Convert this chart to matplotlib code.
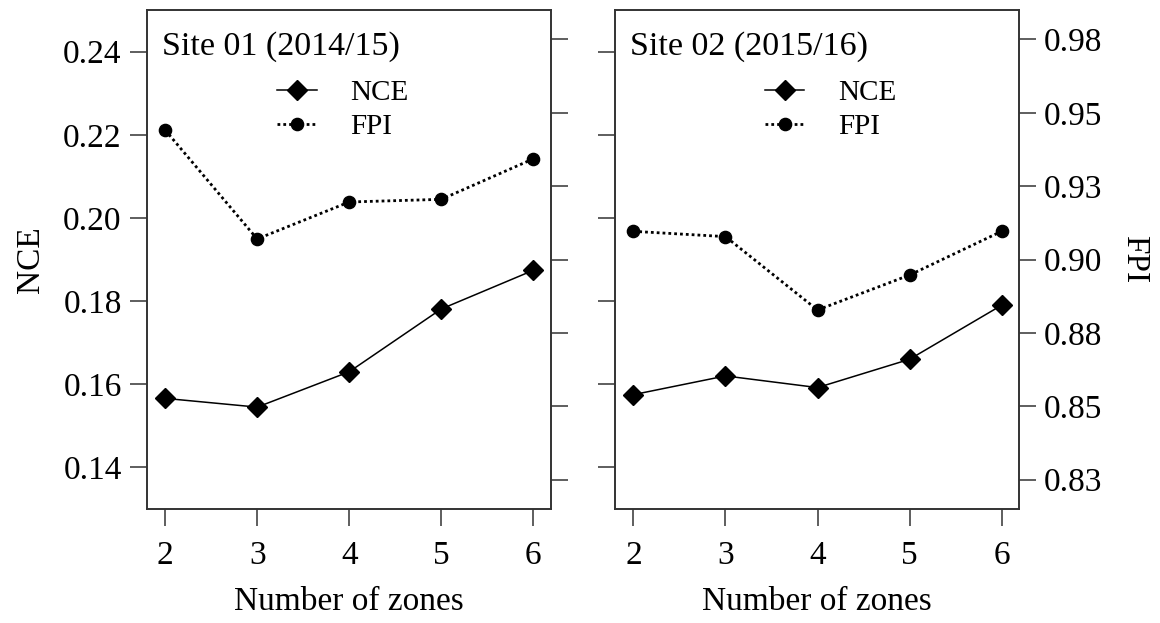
import matplotlib
matplotlib.use("Agg")
import matplotlib.pyplot as plt

plt.rcParams['font.family'] = ['Liberation Serif', 'DejaVu Serif']

# values per number of zones
zones = [2, 3, 4, 5, 6]
nce_site01 = [0.1566, 0.1545, 0.1630, 0.1781, 0.1874]
fpi_site01 = [0.9441, 0.9070, 0.9196, 0.9205, 0.9343]
nce_site02 = [0.1575, 0.1620, 0.1592, 0.1660, 0.1790]
fpi_site02 = [0.9096, 0.9078, 0.8828, 0.8947, 0.9096]

site_titles = ['Site 01 (2014/15)', 'Site 02 (2015/16)']
nce_ticks = [0.14, 0.16, 0.18, 0.20, 0.22, 0.24]
nce_labels = ['0.14', '0.16', '0.18', '0.20', '0.22', '0.24']
fpi_ticks = [0.825, 0.85, 0.875, 0.90, 0.925, 0.95, 0.975]
fpi_labels = ['0.83', '0.85', '0.88', '0.90', '0.93', '0.95', '0.98']

frame_col = '#333333'
tick_size = 24
label_size = 24

fig = plt.figure(figsize=(11.6, 6.23), dpi=100)
ax1 = fig.add_axes([0.1265, 0.1830, 0.3483, 0.8009])
ax2 = fig.add_axes([0.5302, 0.1830, 0.3483, 0.8009])

panels = [(ax1, nce_site01, fpi_site01), (ax2, nce_site02, fpi_site02)]
leg_x = [0.322, 0.370]

for i, (ax, nce, fpi) in enumerate(panels):
    tw = ax.twinx()
    l1, = ax.plot(zones, nce, color='black', lw=1.1, marker='D', ms=9.8,
                  label='NCE', zorder=3)
    l2, = tw.plot(zones, fpi, color='black', lw=2.0, ls=(0, (1, 1.1)),
                  marker='o', ms=8.8, label='FPI', zorder=3)

    ax.set_xlim(1.80, 6.19)
    ax.set_ylim(0.130, 0.250)
    tw.set_ylim(0.815, 0.985)
    ax.set_xticks(zones)
    ax.set_yticks(nce_ticks)
    tw.set_yticks(fpi_ticks)

    for a in (ax, tw):
        for sp in a.spines.values():
            sp.set_color(frame_col)
            sp.set_linewidth(1.2)
        a.tick_params(direction='out', length=12, width=1.1, color=frame_col,
                      labelsize=tick_size, pad=6)
    ax.tick_params(axis='x', pad=11)

    ax.set_xlabel('Number of zones', fontsize=label_size, labelpad=11)

    if i == 0:
        ax.set_yticklabels(nce_labels)
        ax.set_ylabel('NCE', fontsize=label_size, labelpad=12)
        tw.set_yticklabels([])
    else:
        ax.set_yticklabels([])
        tw.set_yticklabels(fpi_labels)
        tw.set_ylabel('FPI', fontsize=label_size, rotation=-90, labelpad=34)

    ax.text(0.037, 0.91, site_titles[i], transform=ax.transAxes,
            fontsize=24.5, ha='left', va='baseline')

    ax.legend([l1, l2], ['NCE', 'FPI'], loc='upper left',
              bbox_to_anchor=(leg_x[i], 0.86), frameon=False, fontsize=21,
              handlelength=1.37, handletextpad=1.16, labelspacing=0.24,
              borderpad=0, borderaxespad=0)

fig.savefig('out.png', dpi=100)
